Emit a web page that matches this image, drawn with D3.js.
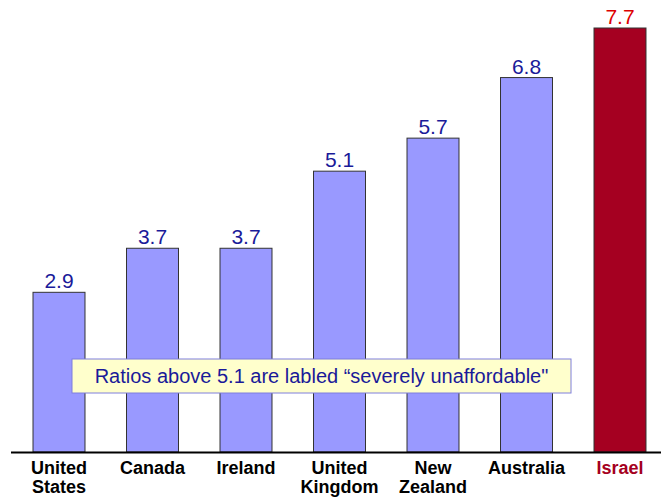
<!DOCTYPE html>
<html><head><meta charset="utf-8">
<script src="https://cdn.jsdelivr.net/npm/d3@7/dist/d3.min.js"></script>
<style>body{margin:0;background:#fff;}svg{display:block;font-family:"Liberation Sans",Arial,sans-serif;}</style>
</head><body><svg id="c" width="663" height="502"></svg>
<script>
const categories = [["United","States"],["Canada"],["Ireland"],["United","Kingdom"],["New","Zealand"],["Australia"],["Israel"]];
const values = [2.9, 3.7, 3.7, 5.1, 5.7, 6.8, 7.7];
const valueLabels = ["2.9","3.7","3.7","5.1","5.7","6.8","7.7"];
const highlight = [false,false,false,false,false,false,true];
const note = "Ratios above 5.1 are labled \u201cseverely unaffordable\"";

const svg = d3.select("#c");
const keys = categories.map((c,i)=>i);
const x = d3.scaleBand().domain(keys).range([12.25, 666.75]).paddingInner(0.444).paddingOuter(0.222);
const y = d3.scaleLinear().domain([0, 7.7]).range([452, 28]);

svg.selectAll("rect.bar").data(values).join("rect")
  .attr("class","bar")
  .attr("x",(d,i)=>x(i)).attr("width",x.bandwidth())
  .attr("y",d=>y(d)).attr("height",d=>y(0)-y(d))
  .attr("fill",(d,i)=>highlight[i]?"#A50021":"#9999FF")
  .attr("stroke","#333").attr("stroke-width",1);

svg.selectAll("text.val").data(values).join("text")
  .attr("class","val")
  .attr("x",(d,i)=>x(i)+x.bandwidth()/2).attr("y",d=>y(d)-4)
  .attr("text-anchor","middle").attr("font-size",21)
  .attr("fill",(d,i)=>highlight[i]?"#DD0000":"#1A1A99")
  .text((d,i)=>valueLabels[i]);

svg.append("line").attr("x1",11).attr("x2",661).attr("y1",y(0)+0.5).attr("y2",y(0)+0.5)
  .attr("stroke","#000").attr("stroke-width",2);

const cat = svg.selectAll("text.cat").data(categories).join("text")
  .attr("class","cat")
  .attr("text-anchor","middle").attr("font-size",18).attr("font-weight","bold")
  .attr("fill",(d,i)=>highlight[i]?"#A50021":"#000");
cat.each(function(d,i){
  const t=d3.select(this);
  d.forEach((line,j)=>t.append("tspan").attr("x",x(i)+x.bandwidth()/2).attr("y",474+j*19).text(line));
});

svg.append("rect").attr("x",72).attr("y",359).attr("width",499).attr("height",34)
  .attr("fill","#FFFFCC").attr("stroke","#7F7FDD").attr("stroke-width",1);
svg.append("text").attr("x",321.5).attr("y",383).attr("text-anchor","middle")
  .attr("font-size",20).attr("fill","#1A1A99").text(note);
</script></body></html>
